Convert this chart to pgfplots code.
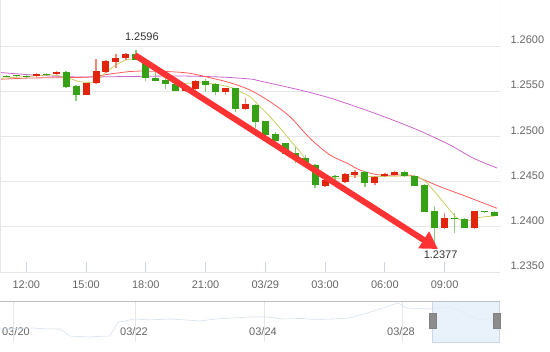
\documentclass[border=0pt]{standalone}
\usepackage{pgfplots}
\pgfplotsset{compat=1.18}
\usepackage{pgfplotstable}
\usepackage{fontspec}
\setmainfont{Liberation Sans}
\usetikzlibrary{arrows.meta}

\definecolor{cgreen}{HTML}{36A114}
\definecolor{cred}{HTML}{E0250C}
\definecolor{cgreenw}{HTML}{8CC97A}
\definecolor{credw}{HTML}{F08A78}
\definecolor{maY}{HTML}{CCCC66}
\definecolor{maR}{HTML}{FF5C5C}
\definecolor{maP}{HTML}{CC66CC}
\definecolor{gridc}{HTML}{E6E6E6}
\definecolor{axc}{HTML}{CCD6EB}
\definecolor{labc}{HTML}{666666}
\definecolor{arr}{HTML}{FF3333}
\definecolor{selc}{HTML}{E4EDF9}
\definecolor{navl}{HTML}{D5E0EE}

\pgfplotstableread{
i O H L C
0 1.25672 1.25680 1.25658 1.25662
1 1.25674 1.25682 1.25660 1.25664
2 1.25672 1.25688 1.25648 1.25662
4 1.25690 1.25700 1.25672 1.25679
6 1.25712 1.25720 1.25540 1.25550
7 1.25558 1.25565 1.25392 1.25455
13 1.25912 1.25956 1.25840 1.25845
14 1.25845 1.25850 1.25613 1.25643
15 1.25649 1.25734 1.25610 1.25616
16 1.25624 1.25630 1.25521 1.25576
17 1.25576 1.25580 1.25500 1.25506
20 1.25613 1.25630 1.25494 1.25569
21 1.25580 1.25590 1.25458 1.25494
23 1.25532 1.25540 1.25273 1.25300
25 1.25347 1.25355 1.25093 1.25163
26 1.25170 1.25175 1.24997 1.25016
27 1.25027 1.25052 1.24868 1.24952
28 1.24924 1.24930 1.24795 1.24802
29 1.24813 1.24883 1.24709 1.24758
30 1.24758 1.24794 1.24680 1.24684
31 1.24684 1.24690 1.24426 1.24462
33 1.24562 1.24575 1.24518 1.24550
36 1.24606 1.24615 1.24444 1.24488
40 1.24606 1.24612 1.24555 1.24562
41 1.24562 1.24570 1.24450 1.24455
42 1.24462 1.24470 1.24160 1.24167
43 1.24175 1.24233 1.23770 1.23983
45 1.24092 1.24149 1.23935 1.24082
46 1.24086 1.24095 1.23985 1.23990
48 1.24172 1.24180 1.24150 1.24162
49 1.24167 1.24170 1.24120 1.24123
}\greentab

\pgfplotstableread{
i O H L C
3 1.25668 1.25705 1.25655 1.25694
5 1.25687 1.25720 1.25680 1.25712
8 1.25455 1.25590 1.25455 1.25587
9 1.25587 1.25856 1.25580 1.25723
10 1.25712 1.25840 1.25705 1.25834
11 1.25826 1.25912 1.25757 1.25864
12 1.25864 1.25920 1.25845 1.25912
18 1.25506 1.25540 1.25500 1.25532
19 1.25521 1.25624 1.25515 1.25613
22 1.25494 1.25540 1.25458 1.25535
24 1.25300 1.25422 1.25295 1.25358
32 1.24455 1.24525 1.24450 1.24518
34 1.24499 1.24590 1.24490 1.24581
35 1.24573 1.24625 1.24540 1.24606
37 1.24488 1.24560 1.24462 1.24554
38 1.24562 1.24590 1.24555 1.24584
39 1.24573 1.24612 1.24565 1.24606
44 1.23983 1.24156 1.23980 1.24094
47 1.23990 1.24180 1.23985 1.24175
}\redtab

\pgfplotsset{
  candle/.style={only marks, mark=*, mark options={draw=none, fill=none, draw opacity=0, fill opacity=0},
    mark size=0pt, forget plot, error bars/.cd, y dir=both, y explicit, error mark=none},
}

\begin{document}
\begin{tikzpicture}
\path[use as bounding box] (0,0) rectangle (550pt,352pt);
\begin{axis}[
  at={(0pt,80pt)}, anchor=south west, scale only axis,
  width=500pt, height=272pt,
  xmin=-0.64, xmax=49.56, ymin=1.2350, ymax=1.26509,
  axis line style={draw=none},
  xtick={2,8,14,20,26,32,38,44},
  xticklabels={12:00,15:00,18:00,21:00,03/29,03:00,06:00,09:00},
  xtick pos=bottom, xtick align=inside, major tick length=10pt,
  xtick style={axc, line width=0.8pt},
  xticklabel style={yshift=-5pt},
  ytick={1.235,1.240,1.245,1.250,1.255,1.260},
  yticklabel pos=right, ytick style={draw=none},
  yticklabel style={anchor=west, xshift=7pt, yshift=6pt,
    /pgf/number format/.cd, fixed, fixed zerofill, precision=4},
  /pgf/number format/assume math mode=true,
  ymajorgrids, grid style={gridc, line width=0.8pt},
  tick label style={font=\fontsize{11pt}{13pt}\selectfont, text=labc},
]
% MA lines
\addplot[maP, line width=0.8pt, smooth] coordinates {
(-0.64,1.25707) (3.37,1.25674) (7.39,1.25657) (12.41,1.25663) (17.43,1.25668)
(21.45,1.25657) (24.46,1.25635) (25.46,1.25613) (29.48,1.25513) (32.49,1.25425)
(35.50,1.25314) (38.52,1.25193) (41.53,1.25060) (44.54,1.24905) (46.85,1.24761)
(49.26,1.24650)};
\addplot[maR, line width=0.8pt, smooth] coordinates {
(-0.64,1.25632) (2.37,1.25646) (5.38,1.25649) (8.39,1.25657) (10.40,1.25690)
(12.41,1.25718) (13.42,1.25723) (16.43,1.25716) (18.43,1.25698) (20.44,1.25649)
(22.45,1.25594) (24.46,1.25513) (26.47,1.25384) (28.47,1.25218) (30.48,1.24979)
(32.49,1.24794) (34.20,1.24705) (35.50,1.24628) (37.51,1.24573) (40.22,1.24573)
(41.53,1.24537) (43.53,1.24444) (46.24,1.24333) (49.26,1.24205)};
\addplot[maY, line width=0.8pt, smooth] coordinates {
(-0.64,1.25643) (1.37,1.25657) (4.38,1.25679) (5.98,1.25654) (7.39,1.25605)
(8.90,1.25605) (9.90,1.25701) (11.00,1.25790) (12.01,1.25845) (12.91,1.25856)
(13.92,1.25845) (14.92,1.25734) (15.92,1.25646) (17.13,1.25594) (18.13,1.25587)
(19.74,1.25594) (21.45,1.25569) (22.75,1.25535) (23.45,1.25494) (24.46,1.25439)
(25.46,1.25329) (26.47,1.25218) (27.47,1.25093) (28.47,1.24960) (29.48,1.24831)
(30.48,1.24684) (31.49,1.24610) (32.49,1.24554) (33.49,1.24537) (34.80,1.24562)
(36.81,1.24556) (40.82,1.24562) (41.53,1.24540) (42.23,1.24485) (43.53,1.24319)
(45.24,1.24097) (46.24,1.24067) (47.55,1.24105) (49.06,1.24119)};
% wicks
\addplot[candle, error bar style={line width=1.3pt, cgreenw}]
  table[x=i, y=O, y error plus expr=\thisrow{H}-\thisrow{O}, y error minus expr=\thisrow{O}-\thisrow{L}] {\greentab};
\addplot[candle, error bar style={line width=1.3pt, credw}]
  table[x=i, y=O, y error plus expr=\thisrow{H}-\thisrow{O}, y error minus expr=\thisrow{O}-\thisrow{L}] {\redtab};
% bodies
\addplot[candle, error bar style={line width=7pt, cgreen}]
  table[x=i, y=O, y error plus expr=0, y error minus expr=\thisrow{O}-\thisrow{C}] {\greentab};
\addplot[candle, error bar style={line width=7pt, cred}]
  table[x=i, y=O, y error plus expr=\thisrow{C}-\thisrow{O}, y error minus expr=0] {\redtab};
% arrow
\draw[arr, line width=6pt, -{Triangle[length=17pt, width=19pt]}]
  (axis cs:12.9,1.25900) -- (axis cs:43.33,1.23754);
% frame
\draw[axc, line width=0.8pt] (rel axis cs:0,0) -- (rel axis cs:1,0);
\draw[axc!70, line width=0.8pt] (rel axis cs:1,0) -- (rel axis cs:1,1);
\draw[gridc, line width=0.6pt] (rel axis cs:0,0) -- (rel axis cs:0,1);
% labels
\node[font=\fontsize{11pt}{13pt}\selectfont, text=black!80] at (axis cs:13.6,1.26100) {1.2596};
\node[font=\fontsize{11pt}{13pt}\selectfont, text=black!80] at (axis cs:43.6,1.23688) {1.2377};
\end{axis}

\begin{axis}[
  at={(0pt,10pt)}, anchor=south west, scale only axis,
  width=500pt, height=41pt,
  xmin=0, xmax=500, ymin=0, ymax=1,
  axis line style={draw=none},
  clip=false,
  ytick=\empty,
  xtick={16,134,263,401},
  xticklabels={03/20,03/22,03/24,03/28},
  xtick style={draw=none},
  xticklabel style={anchor=center, yshift=10pt, font=\fontsize{11pt}{13pt}\selectfont, text=labc},
]
\draw[gridc, line width=0.6pt] (axis cs:13,0) -- (axis cs:13,1);
\draw[gridc, line width=0.6pt] (axis cs:135,0) -- (axis cs:135,1);
\draw[gridc, line width=0.6pt] (axis cs:264,0) -- (axis cs:264,1);
\draw[gridc, line width=0.6pt] (axis cs:402,0) -- (axis cs:402,1);
\addplot[navl, line width=0.6pt] coordinates {
(0,0.317) (15,0.330) (33,0.341) (45,0.320) (60,0.317) (70,0.146) (80,0.130) (90,0.122)
(100,0.140) (110,0.146) (118,0.488) (125,0.510) (133,0.561) (150,0.540) (170,0.561)
(190,0.530) (200,0.512) (215,0.560) (233,0.585) (250,0.610) (267,0.610) (283,0.561)
(300,0.575) (315,0.550) (333,0.561) (350,0.585) (367,0.707) (383,0.829) (398,0.951)
(407,0.829) (420,0.815) (430,0.805) (440,0.830) (450,0.854) (460,0.760) (467,0.659)
(480,0.537) (490,0.585) (497,0.317) (500,0.293)};
\filldraw[fill=selc, fill opacity=0.8, draw=axc] (axis cs:432,0) rectangle (axis cs:499,1);
\draw[black!25, line width=0.8pt] (axis cs:0,1) -- (axis cs:500,1);
\filldraw[fill=black!45, draw=black!50] (axis cs:429,0.34) rectangle (axis cs:436,0.71);
\filldraw[fill=black!45, draw=black!50] (axis cs:493,0.34) rectangle (axis cs:500,0.71);
\end{axis}
\end{tikzpicture}
\end{document}
